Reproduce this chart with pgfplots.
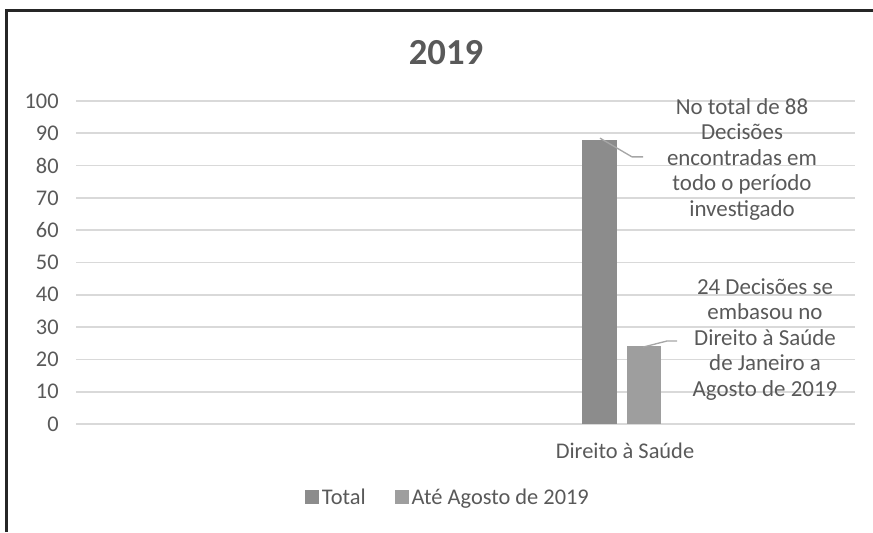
\documentclass[border=0pt]{standalone}
\usepackage{pgfplots}
\pgfplotsset{compat=1.18}
\usepackage{fontspec}
\setmainfont{Carlito}
\definecolor{txt}{HTML}{595959}
\definecolor{gridc}{HTML}{D9D9D9}
\definecolor{barA}{HTML}{8C8C8C}
\definecolor{barB}{HTML}{9E9E9E}
\definecolor{lead}{HTML}{A6A6A6}
\begin{document}
\begin{tikzpicture}[x=0.75pt,y=0.75pt]
\useasboundingbox (0,0) rectangle (873,532);
\draw[line width=1.6pt,color=black!85] (6.5,0) -- (6.5,521.5) -- (873,521.5);
\node[font=\fontsize{27.5}{33}\selectfont\bfseries,text=txt] at (446,479) {2019};
\begin{axis}[
  at={(57pt,81pt)}, anchor=south west,
  scale only axis, width=584.25pt, height=242.25pt,
  xmin=0, xmax=779, ymin=0, ymax=100,
  axis line style={draw=none},
  ytick={0,10,...,100},
  xtick={549}, xticklabels={Direito à Saúde},
  major tick length=0pt,
  ymajorgrids, grid style={gridc, line width=1.3pt},
  ticklabel style={font=\fontsize{16.8}{20}\selectfont, text=txt},
  /pgf/number format/assume math mode=true,
  yticklabel style={xshift=-9.5pt},
  xticklabel style={yshift=-11pt},
  legend style={at={(0.478,-0.228)}, anchor=center, draw=none, fill=none,
    font=\fontsize{16.8}{20}\selectfont, text=txt, legend columns=2,
    /tikz/every even column/.append style={column sep=20pt}},
  legend image code/.code={\fill[#1] (0pt,-4.5pt) rectangle (10.5pt,6pt);},
  clip=false,
]
\addplot[ybar, bar width=35, bar shift=0pt, fill=barA, draw=none] coordinates {(523.5,88)};
\addlegendentry{Total}
\addplot[ybar, bar width=34, bar shift=0pt, fill=barB, draw=none] coordinates {(567.5,24)};
\addlegendentry{Até Agosto de 2019}
\draw[lead, line width=1pt] (axis cs:524,88.5) -- (axis cs:556,82.7) -- (axis cs:567,82.7);
\draw[lead, line width=1pt] (axis cs:567,23.8) -- (axis cs:591,25.7) -- (axis cs:601,25.7);
\node[align=center, font=\fontsize{17.2}{19.1}\selectfont, text=txt] at (axis cs:666,82) {No total de 88\\Decisões\\encontradas em\\todo o período\\investigado};
\node[align=center, font=\fontsize{17.2}{19.1}\selectfont, text=txt] at (axis cs:689,26.2) {24 Decisões se\\embasou no\\Direito à Saúde\\de Janeiro a\\Agosto de 2019};
\end{axis}
\end{tikzpicture}
\end{document}
